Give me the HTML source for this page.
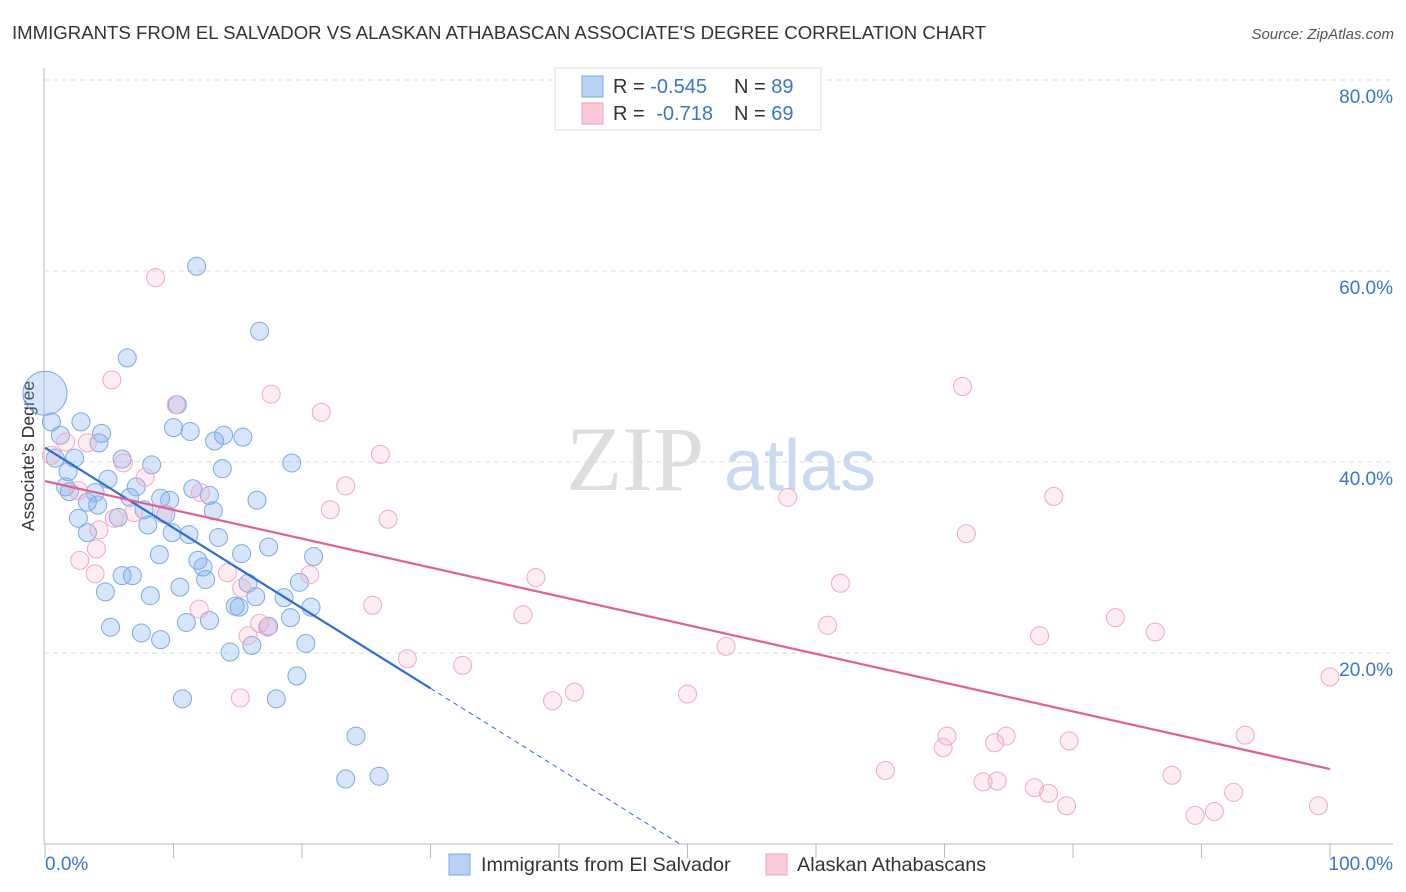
<!DOCTYPE html>
<html><head><meta charset="utf-8"><style>
body{margin:0;background:#fff;font-family:"Liberation Sans",sans-serif;}
#wrap{position:relative;width:1406px;height:892px;overflow:hidden;}
</style></head><body>
<div id="wrap">
<svg id="chart" width="1406" height="892" xmlns="http://www.w3.org/2000/svg">
<text x="12" y="39" font-size="18.6" fill="#333">IMMIGRANTS FROM EL SALVADOR VS ALASKAN ATHABASCAN ASSOCIATE'S DEGREE CORRELATION CHART</text>
<text x="1394" y="39" font-size="15" fill="#555" font-style="italic" text-anchor="end">Source: ZipAtlas.com</text>
<text x="34" y="456" font-size="17.5" fill="#333" text-anchor="middle" transform="rotate(-90 34 456)">Associate's Degree</text>
<g><text x="635" y="490" font-size="92" fill="#ddd" text-anchor="middle" font-family="Liberation Serif,serif">ZIP</text><text x="800" y="490" font-size="72" fill="#c9daf0" text-anchor="middle">atlas</text></g>
<g id="grid"></g><g id="pts"></g><g id="lines"></g>
<g>
<rect x="555" y="68" width="266" height="62" fill="#fff" stroke="#ddd"/>
<rect x="582" y="76" width="21" height="21" fill="#b7d2f5" stroke="#7aa8e6"/>
<rect x="582" y="103" width="21" height="21" fill="#fbc9d8" stroke="#efa2bb"/>
<text x="613" y="93" font-size="20" fill="#333">R = <tspan fill="#3b74d1">-0.545</tspan><tspan x="734">N = </tspan><tspan fill="#3b74d1">89</tspan></text>
<text x="613" y="120" font-size="20" fill="#333">R = <tspan fill="#3b74d1" dx="6">-0.718</tspan><tspan x="734">N = </tspan><tspan fill="#3b74d1">69</tspan></text>
</g>
<g>
<rect x="449" y="854" width="21" height="21" fill="#b7d2f5" stroke="#7aa8e6"/>
<text x="481" y="871" font-size="19.8" fill="#333">Immigrants from El Salvador</text>
<rect x="766" y="854" width="21" height="21" fill="#fbc9d8" stroke="#efa2bb"/>
<text x="797" y="871" font-size="19.8" fill="#333">Alaskan Athabascans</text>
</g>
<text x="45" y="870" font-size="19" fill="#3b74d1">0.0%</text>
<text x="1393" y="870" font-size="19" fill="#3b74d1" text-anchor="end">100.0%</text>
</svg></div>
<script>
const yTicks=[20,40,60,80];
const blueX=[11.8,16.7,6.4,10.3,0.5,2.8,1.2,4.4,4.2,10.0,11.3,13.2,13.9,15.4,0.8,2.3,6.0,8.3,13.8,19.2,1.8,4.9,1.6,7.1,1.9,3.9,3.3,4.1,6.6,9.0,9.7,11.5,12.8,16.5,2.6,5.7,7.7,8.0,9.4,13.1,3.3,9.9,11.2,13.5,17.4,8.9,15.3,20.9,11.9,12.3,6.0,6.8,4.7,8.2,10.5,12.5,15.8,19.8,11.0,12.8,14.8,15.1,16.4,18.6,19.1,20.7,5.1,7.5,9.0,14.4,16.1,20.3,17.4,19.6,10.7,18.0,24.2,23.4,26.0];
const blueY=[60.5,53.7,50.9,46.0,44.2,44.2,42.8,43.0,42.0,43.6,43.2,42.2,42.8,42.6,40.4,40.4,40.3,39.7,39.3,39.9,39.0,38.2,37.4,37.4,36.9,36.8,35.8,35.5,36.3,36.2,36.0,37.2,36.5,36.0,34.1,34.2,35.0,33.4,34.5,34.9,32.6,32.6,32.4,32.1,31.1,30.3,30.4,30.1,29.7,29.0,28.1,28.1,26.4,26.0,26.9,27.7,27.3,27.4,23.2,23.4,24.9,24.8,25.9,25.8,23.7,24.8,22.7,22.1,21.4,20.1,20.8,21.0,22.8,17.6,15.2,15.2,11.3,6.8,7.1];
const pinkX=[8.6,5.2,17.6,21.5,10.2,71.4,26.1,1.6,3.3,6.1,0.5,7.8,2.6,12.1,5.4,6.9,9.2,23.4,22.2,26.7,4.2,4.0,2.7,3.9,14.2,20.6,15.3,57.8,78.5,71.7,38.2,61.9,12.0,25.5,37.2,60.9,83.3,86.4,77.4,53.0,16.7,17.3,15.8,28.2,32.5,41.2,39.5,50.0,15.2,100,70.2,69.9,73.9,74.8,79.7,93.4,65.4,73.0,74.1,77.0,78.1,79.5,87.7,89.5,91.0,92.5,99.1];
const pinkY=[59.3,48.6,47.1,45.2,46.0,47.9,40.8,42.1,42.0,39.9,40.7,38.4,37.0,36.8,34.1,34.7,34.6,37.5,35.0,34.0,32.9,30.9,29.7,28.3,28.4,28.2,26.8,36.3,36.4,32.5,27.9,27.3,24.6,25.0,24.0,22.9,23.7,22.2,21.8,20.7,23.1,22.7,21.8,19.4,18.7,15.9,15.0,15.7,15.3,17.5,11.3,10.1,10.6,11.3,10.8,11.4,7.7,6.5,6.6,5.9,5.3,4.0,7.2,3.0,3.4,5.4,4.0];
const blueTrend=[41.5,16.3,30];
const pinkTrend=[38.0,7.85];
const NS="http://www.w3.org/2000/svg";
const sx=v=>45+v*12.85, sy=v=>844-v*9.55;
function mk(t,a,p){const e=document.createElementNS(NS,t);for(const k in a)e.setAttribute(k,a[k]);p.appendChild(e);return e;}
const grid=document.getElementById('grid');
mk('line',{x1:44,y1:68,x2:44,y2:844,stroke:'#bbb'},grid);
mk('line',{x1:44,y1:844,x2:1393,y2:844,stroke:'#bbb'},grid);
for(let i=0;i<=10;i++){const l=mk('line',{x1:sx(i*10),y1:844,x2:sx(i*10),y2:858,stroke:'#bbb'},grid);

}
yTicks.forEach(v=>{const l=mk('line',{x1:44,y1:sy(v),x2:1393,y2:sy(v),stroke:'#ddd','stroke-dasharray':'5,4'},grid);


const t=mk('text',{x:1393,y:sy(v)+23,'font-size':19,fill:'#3b74d1','text-anchor':'end'},grid);t.textContent=v.toFixed(1)+'%';

});
const pts=document.getElementById('pts');
const big=mk('circle',{cx:sx(0),cy:sy(47.2),r:22,fill:'rgba(120,170,235,0.3)',stroke:'#7ea9e4','stroke-width':1},pts);


blueX.forEach((x,i)=>{const c=mk('circle',{cx:sx(x),cy:sy(blueY[i]),r:9,fill:'rgba(120,170,235,0.3)',stroke:'#7ea9e4','stroke-width':1},pts);

});
pinkX.forEach((x,i)=>{const c=mk('circle',{cx:sx(x),cy:sy(pinkY[i]),r:9,fill:'rgba(245,170,195,0.22)',stroke:'#f0aac2','stroke-width':1},pts);

});
const lines=document.getElementById('lines');
const slope=(blueTrend[1]-blueTrend[0])/blueTrend[2];
const bl=mk('line',{x1:sx(0),y1:sy(blueTrend[0]),x2:sx(blueTrend[2]),y2:sy(blueTrend[1]),stroke:'#2b6fd6','stroke-width':2.2},lines);


const xe=-blueTrend[0]/slope;
const bd=mk('line',{x1:sx(blueTrend[2]),y1:sy(blueTrend[1]),x2:sx(xe),y2:sy(0),stroke:'#2b6fd6','stroke-width':1,'stroke-dasharray':'5,4'},lines);


const pl=mk('line',{x1:sx(0),y1:sy(pinkTrend[0]),x2:sx(100),y2:sy(pinkTrend[1]),stroke:'#e4608c','stroke-width':2.2},lines);


</script>
</body></html>
